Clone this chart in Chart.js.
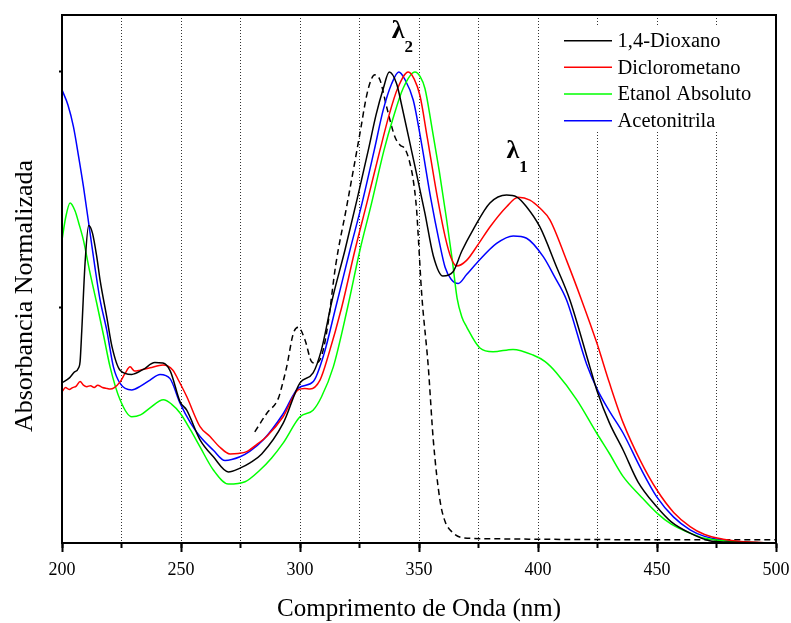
<!DOCTYPE html>
<html>
<head>
<meta charset="utf-8">
<script src="https://cdn.jsdelivr.net/npm/chart.js@4.4.0/dist/chart.umd.min.js"></script>
<style>html,body{margin:0;padding:0;background:#fff}canvas{display:block}</style>
</head>
<body>
<canvas id="c" width="791" height="623"></canvas>
<script>
// ---- data (wavelength nm, normalized absorbance) ----
const dioxanoX = [200,203,205,207,207.6,208.3,209.7,211.2,212.8,214.6,216,218.8,221,224.4,229.3,234,239,242.4,245.5,249.6,252.4,258,263.6,269.9,274.8,279,283.9,293,300,305.5,309,313.5,318.9,324,328.7,332,335,337.5,340.6,342.7,347,352.5,356,360,364.3,368,372.7,379.8,386.8,391,395,400.8,407.8,413.4,421.8,425,430,435.8,442,449.9,456,463.9,472,480,500];
const dioxanoY = [0.34,0.35,0.362,0.372,0.385,0.45,0.595,0.674,0.658,0.608,0.558,0.48,0.417,0.367,0.358,0.368,0.383,0.382,0.365,0.30,0.282,0.219,0.183,0.151,0.159,0.17,0.189,0.255,0.34,0.361,0.41,0.516,0.622,0.73,0.834,0.91,0.965,1.0,0.975,0.93,0.83,0.70,0.61,0.567,0.576,0.62,0.665,0.722,0.739,0.735,0.715,0.671,0.586,0.516,0.374,0.32,0.255,0.197,0.13,0.077,0.045,0.021,0.005,0.002,0.0];

const dicloroX = [200,201.5,203,204.5,206,207.6,209,210.4,212,213.5,215,217,219,220.2,222,224.4,226.5,228.6,230.5,232.8,237,242.4,246.6,249,252.4,258,262.2,266,270.6,274,277.6,282,286,292.9,299.2,302,304.2,308.4,312,317.5,323.1,328,333.6,337.5,341,345.5,348,350.4,353.5,357.5,361,363.5,365.8,370,375,379.8,386.8,391.7,396.6,401,405,412,418.3,424.7,430,435.8,443,449.9,457,463.9,470,477.8,485,500];
const dicloroY = [0.321,0.33,0.326,0.33,0.333,0.343,0.335,0.332,0.334,0.33,0.335,0.33,0.328,0.327,0.33,0.342,0.36,0.374,0.365,0.367,0.372,0.378,0.367,0.345,0.311,0.247,0.226,0.205,0.189,0.19,0.194,0.21,0.226,0.268,0.325,0.328,0.327,0.346,0.40,0.50,0.622,0.72,0.834,0.91,0.965,1.0,0.985,0.95,0.86,0.74,0.65,0.605,0.588,0.60,0.635,0.671,0.714,0.734,0.728,0.71,0.686,0.60,0.516,0.425,0.34,0.255,0.175,0.113,0.065,0.035,0.018,0.008,0.003,0];

const etanolX = [200,201.5,203.4,205.5,207,209,211.5,214.6,217.5,220.2,224.4,229.3,233,237,242.6,246,249.6,254,258,263.6,269.9,276.9,283.2,288,292.9,300,305.5,309,314,320,325.2,330,335.3,339,343.3,348.3,350.5,352.5,355.5,358.5,361.5,364,366,368,370,375.6,381.1,389.5,397.9,403,407.8,416.3,424.7,430,435.8,443,449.9,456,463.9,470,477.8,485,500];
const etanolY = [0.643,0.69,0.722,0.705,0.68,0.643,0.58,0.509,0.44,0.374,0.304,0.268,0.272,0.287,0.304,0.295,0.276,0.24,0.204,0.155,0.125,0.13,0.155,0.18,0.212,0.268,0.282,0.31,0.374,0.50,0.622,0.72,0.834,0.90,0.965,1.0,0.99,0.965,0.88,0.79,0.69,0.60,0.52,0.48,0.459,0.414,0.406,0.411,0.399,0.385,0.361,0.304,0.233,0.19,0.141,0.10,0.064,0.04,0.021,0.01,0.005,0.002,0];

const acetoX = [200,202.5,204.8,207,209,211.8,214,216,218.8,221.6,224.4,229.3,233,237,241.2,245.4,249.6,254,258,263.6,268.5,274.8,279,284.6,293,299.3,305.6,310,315,321,326,331.2,335,338.5,341.5,344,347.6,351,355,358.5,361,363.5,366.5,370,374.2,382.6,389.6,395.2,402.2,407,412,420.4,425,430,435.8,443,449.9,457,463.9,470,477.9,485,500];
const acetoY = [0.962,0.93,0.884,0.82,0.757,0.658,0.58,0.516,0.452,0.374,0.339,0.325,0.333,0.346,0.358,0.349,0.297,0.255,0.226,0.197,0.175,0.183,0.195,0.219,0.275,0.329,0.343,0.40,0.50,0.622,0.72,0.834,0.92,0.975,1.0,0.985,0.94,0.85,0.73,0.64,0.585,0.56,0.551,0.57,0.594,0.636,0.652,0.647,0.608,0.565,0.516,0.38,0.325,0.28,0.233,0.16,0.098,0.055,0.028,0.014,0.006,0.002,0];

const dashedX = [281,286,290.9,292.5,294.4,297.2,299.3,302.1,304.9,306.5,308.4,310,311.9,315,319.6,325.2,328,330,331.5,333.6,336.4,339.9,342,344.1,346,347.6,349,349.7,351.1,353.9,356,358.8,361,363,368.6,380,400,450,500];
const dashedY = [0.236,0.275,0.307,0.335,0.374,0.445,0.458,0.431,0.385,0.382,0.389,0.415,0.47,0.59,0.714,0.87,0.95,0.985,0.994,0.983,0.926,0.862,0.845,0.837,0.81,0.77,0.707,0.65,0.531,0.374,0.219,0.091,0.045,0.028,0.011,0.009,0.008,0.007,0.007];

const seriesNames = ['1,4-Dioxano', 'Diclorometano', 'Etanol Absoluto', 'Acetonitrila'];
const xAxisTitle = 'Comprimento de Onda (nm)';
const yAxisTitle = 'Absorbancia Normalizada';
const peakLabels = [
  { text: 'λ', sub: '2', x: 338.5, y: 1.072 },
  { text: 'λ', sub: '1', x: 386.8, y: 0.817 }
];

// ---- styles ----
const FONT = "'Liberation Serif', 'Times New Roman', serif";
const COLORS = ['#000000', '#ff0000', '#00ff00', '#0000ff'];
const LEGEND = { x: 564, y: 40.7, dy: 26.67, len: 48, textX: 617.5, font: 20.5, box: { x: 558, y: 26, w: 205, h: 106 } };

Chart.defaults.font.family = FONT;
Chart.defaults.color = '#000';

function mk(label, xs, ys, color, dash) {
  return {
    label: label,
    data: xs.map((x, i) => ({ x: x, y: ys[i] })),
    borderColor: color,
    backgroundColor: color,
    borderWidth: 1.5,
    borderDash: dash,
    pointRadius: 0,
    cubicInterpolationMode: 'monotone',
    fill: false
  };
}

const decor = {
  id: 'decor',
  beforeDatasetsDraw(chart) {
    const ctx = chart.ctx;
    ctx.save();
    ctx.fillStyle = '#fff';
    ctx.fillRect(LEGEND.box.x, LEGEND.box.y, LEGEND.box.w, LEGEND.box.h);
    ctx.restore();
  },
  afterDraw(chart) {
    const { ctx, chartArea: a, scales } = chart;
    ctx.save();
    // frame
    ctx.strokeStyle = '#000';
    ctx.lineWidth = 2;
    ctx.setLineDash([]);
    ctx.strokeRect(a.left, a.top, a.right - a.left, a.bottom - a.top);
    // legend
    ctx.font = LEGEND.font + 'px ' + FONT;
    ctx.textBaseline = 'middle';
    ctx.textAlign = 'left';
    seriesNames.forEach((name, i) => {
      const y = LEGEND.y + i * LEGEND.dy;
      ctx.strokeStyle = COLORS[i];
      ctx.lineWidth = 1.5;
      ctx.beginPath();
      ctx.moveTo(LEGEND.x, y);
      ctx.lineTo(LEGEND.x + LEGEND.len, y);
      ctx.stroke();
      ctx.fillStyle = '#000';
      ctx.fillText(name, LEGEND.textX, y + 1);
    });
    // peak labels
    ctx.fillStyle = '#000';
    ctx.textBaseline = 'alphabetic';
    peakLabels.forEach(p => {
      const px = scales.x.getPixelForValue(p.x);
      const py = scales.y.getPixelForValue(p.y);
      ctx.font = 'bold 26px ' + FONT;
      ctx.fillText(p.text, px, py);
      const w = ctx.measureText(p.text).width;
      ctx.font = 'bold 17px ' + FONT;
      ctx.fillText(p.sub, px + w, py + 14);
    });
    // y axis title
    ctx.translate(31.5, (a.top + a.bottom) / 2 + 17);
    ctx.rotate(-Math.PI / 2);
    ctx.textAlign = 'center';
    ctx.font = '26px ' + FONT;
    ctx.fillText(yAxisTitle, 0, 0);
    ctx.restore();
  }
};

new Chart(document.getElementById('c'), {
  type: 'line',
  data: {
    datasets: [
      mk(seriesNames[0], dioxanoX, dioxanoY, COLORS[0], []),
      mk(seriesNames[1], dicloroX, dicloroY, COLORS[1], []),
      mk(seriesNames[2], etanolX, etanolY, COLORS[2], []),
      mk(seriesNames[3], acetoX, acetoY, COLORS[3], []),
      mk('', dashedX, dashedY, '#000000', [6, 4])
    ]
  },
  options: {
    responsive: false,
    animation: false,
    devicePixelRatio: 1,
    layout: { padding: { top: 15, right: 15, left: 0, bottom: 0 } },
    plugins: { legend: { display: false }, tooltip: { enabled: false } },
    scales: {
      x: {
        type: 'linear', position: 'bottom', min: 200, max: 500, weight: 1,
        afterFit: s => { s.height = 80; s.paddingLeft = 0; s.paddingRight = 0; },
        ticks: { stepSize: 50, color: '#000', font: { size: 18, lineHeight: 1.2 }, padding: 7, maxRotation: 0, autoSkip: false },
        grid: { drawOnChartArea: false, drawTicks: true, tickLength: 9, tickWidth: 2, tickColor: '#000' },
        border: { display: true, color: '#000', width: 2 },
        title: { display: true, text: xAxisTitle, color: '#000', font: { size: 25, lineHeight: 1 }, padding: { top: 0, bottom: 1.5 } }
      },
      x2: {
        type: 'linear', position: 'bottom', min: 200, max: 500, weight: 0,
        afterFit: s => { s.height = 0; s.paddingLeft = 0; s.paddingRight = 0; },
        ticks: { stepSize: 25, display: false },
        grid: {
          color: c => (c.tick && (c.tick.value === 200 || c.tick.value === 500)) ? 'rgba(0,0,0,0)' : 'rgba(0,0,0,0.8)',
          lineWidth: 1, drawTicks: true, tickLength: 5, tickWidth: 2, tickColor: '#000'
        },
        border: { display: false, dash: [1, 2] }
      },
      y: {
        type: 'linear', position: 'left', min: 0, max: 1.121,
        afterFit: s => { s.width = 62; s.paddingTop = 0; s.paddingBottom = 0; },
        ticks: { stepSize: 0.5, display: false },
        grid: {
          drawOnChartArea: false, tickLength: 3, tickWidth: 2,
          tickColor: c => (c.tick && (c.tick.value === 0.5 || c.tick.value === 1)) ? '#000' : 'rgba(0,0,0,0)'
        },
        border: { display: true, color: '#000', width: 2 }
      }
    }
  },
  plugins: [decor]
});
</script>
</body>
</html>
